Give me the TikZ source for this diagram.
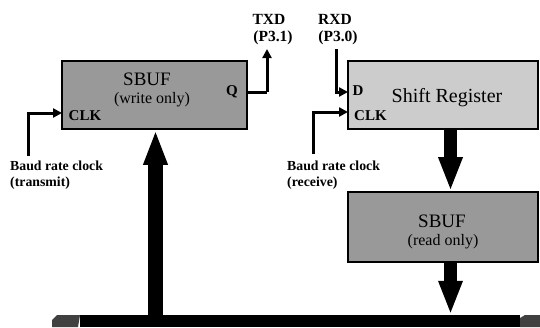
\documentclass[tikz,border=0pt]{standalone}
\usepackage{fontspec}
\setmainfont{Liberation Serif}
\usetikzlibrary{arrows.meta}
\definecolor{bufgray}{HTML}{999999}
\definecolor{reggray}{HTML}{CCCCCC}
\definecolor{busend}{HTML}{404040}
\begin{document}
\begin{tikzpicture}[x=1pt,y=-1pt,
  blk/.style={draw=black,line width=1.6pt,inner sep=0pt},
  title/.style={font=\fontsize{19}{19}\selectfont,inner sep=0pt,anchor=base},
  sub/.style={font=\fontsize{16}{16}\selectfont,inner sep=0pt,anchor=base},
  port/.style={font=\bfseries\fontsize{15}{15}\selectfont,inner sep=0pt,anchor=base},
  pin/.style={font=\bfseries\fontsize{15.5}{15.5}\selectfont,inner sep=0pt,anchor=base},
  note/.style={font=\bfseries\fontsize{13.8}{13.8}\selectfont,inner sep=0pt,anchor=base west},
  sig/.style={line width=3pt,-{Triangle[length=9pt,width=9pt]}},
  bigup/.style={line width=15pt,-{Triangle[length=35pt,width=22pt]}},
  bigdown/.style={line width=13pt,-{Triangle[length=34pt,width=22pt]}}]
\useasboundingbox (0,0) rectangle (540,327);

% blocks
\node[blk,fill=bufgray,minimum width=185pt,minimum height=68pt] (wbuf) at (154.5,95) {};
\node[blk,fill=reggray,minimum width=190pt,minimum height=68pt] (sreg) at (443,95) {};
\node[blk,fill=bufgray,minimum width=190pt,minimum height=70pt] (rbuf) at (443,227) {};

% data bus
\node[fill=black,inner sep=0pt,minimum width=440pt,minimum height=12pt] (bus) at (300,321) {};
\fill[busend] (52,327) -- (52,320) -- (57,315) -- (80,315) -- (78,327) -- cycle;
\fill[busend] (520,327) -- (520,318) -- (525,315) -- (540,315) -- (540,327) -- cycle;

% block texts
\node[title] (wt) at (147,85) {SBUF};
\node[sub] (ws) at (152,103) {(write only)};
\node[port] (q) at (232,95) {Q};
\node[port] (wclk) at (85,120) {CLK};
\node[port] (d) at (358,95) {D};
\node[port,anchor=base west] (rclk) at (354,120) {CLK};
\node[title,font=\fontsize{20}{20}\selectfont] (st) at (447,102) {Shift Register};
\node[title] (rt) at (442,227) {SBUF};
\node[sub] (rs) at (443,245) {(read only)};

% pin labels
\node[pin] (txd) at (269,24.5) {TXD};
\node[pin] (txdp) at (273,41) {(P3.1)};
\node[pin] (rxd) at (335,24.5) {RXD};
\node[pin] (rxdp) at (338,41) {(P3.0)};
\node[note] (bt1) at (10,170) {Baud rate clock};
\node[note] (bt2) at (10,186) {(transmit)};
\node[note] (br1) at (287,170) {Baud rate clock};
\node[note] (br2) at (287,186) {(receive)};

% serial signals
\coordinate (qout) at (247,92);
\coordinate (txdend) at (267,49);
\draw[sig,-] (qout) -- (txdend |- qout);
\draw[sig] (txdend |- qout) -- (txdend);

\coordinate (rxdbeg) at (336,49);
\coordinate (din) at (348,92);
\draw[sig] (rxdbeg) |- (din);

\coordinate (tclkbeg) at (28,156);
\coordinate (tclkin) at (62,113);
\draw[sig] (tclkbeg) |- (tclkin);

\coordinate (rclkbeg) at (313,154);
\coordinate (rclkin) at (348,112);
\draw[sig] (rclkbeg) |- (rclkin);

% parallel transfers
\coordinate (upx) at ([xshift=1pt]wbuf.south);
\draw[bigup] (upx |- bus.north) -- (upx);
\coordinate (dnx) at ([xshift=7.5pt]sreg.south);
\draw[bigdown] (dnx) -- (dnx |- rbuf.north);
\draw[bigdown] (dnx |- rbuf.south) -- (dnx |- bus.north);
\end{tikzpicture}
\end{document}
